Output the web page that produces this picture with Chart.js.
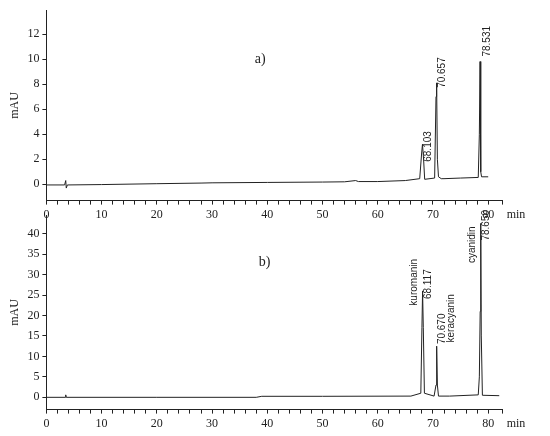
<!DOCTYPE html>
<html><head>
<script src="https://cdn.jsdelivr.net/npm/chart.js@4"></script>
<style>
body{margin:0;background:#fff;}
#a{position:absolute;left:0;top:0;}
#b{position:absolute;left:0;top:205px;}
</style>
</head><body>
<canvas id="a" width="550" height="225"></canvas>
<canvas id="b" width="550" height="231"></canvas>
<script>
// chromatogram a)
const timesA = [0, 3.3, 3.5, 3.6, 3.8, 10, 20, 28, 30, 40, 50, 54, 56, 56.5, 60, 65, 67.6, 67.95, 68.1, 68.3, 68.5, 70.3, 70.55, 70.66, 70.8, 71.0, 71.5, 72, 75, 78.2, 78.4, 78.53, 78.65, 78.8, 80];
const valuesA = [-0.05, -0.05, 0.3, -0.3, -0.05, -0.02, 0.05, 0.1, 0.12, 0.15, 0.18, 0.2, 0.3, 0.22, 0.22, 0.3, 0.45, 2.5, 3.2, 2.0, 0.4, 0.5, 7.0, 8.1, 2.0, 0.6, 0.45, 0.45, 0.5, 0.55, 4.0, 9.8, 1.0, 0.6, 0.6];
const peakLabelsA = ['68.103', '70.657', '78.531'];
const peakAnchorsA = [[69.1, 1.8], [71.6, 7.7], [79.9, 10.2]];

// chromatogram b)
const timesB = [0, 3.4, 3.5, 3.6, 20, 38, 39, 50, 66, 67.8, 68.0, 68.12, 68.25, 68.45, 70.2, 70.55, 70.67, 70.8, 71.0, 73, 78.2, 78.4, 78.55, 78.65, 78.75, 78.95, 82];
const valuesB = [0, 0, 0.6, 0, 0, 0, 0.25, 0.25, 0.3, 1, 17, 26, 17, 1, 0.3, 3, 12.5, 3, 0.3, 0.3, 0.6, 5, 21, 42.5, 15, 0.5, 0.4];
const peakLabelsB = ['kuromanin', '68.117', '70.670', 'keracyanin', 'cyanidin', '78.650'];
const peakAnchorsB = [[66.7, 22.4], [69.1, 24], [71.6, 13], [73.4, 13.4], [77.2, 32.8], [79.7, 38.3]];

const serif = '"Liberation Serif", serif';

function textPlugin(title, titlePos, labels, anchors) {
  return {
    id: 'txt',
    afterDraw(chart) {
      const c = chart.ctx, x = chart.scales.x, y = chart.scales.y;
      c.save();
      c.fillStyle = '#222';
      c.font = '10px "Liberation Sans", Arial, sans-serif';
      labels.forEach((t, i) => {
        c.save();
        c.translate(x.getPixelForValue(anchors[i][0]), y.getPixelForValue(anchors[i][1]));
        c.rotate(-Math.PI / 2);
        c.textBaseline = 'middle';
        c.fillText(t, 0, 0);
        c.restore();
      });
      c.font = '14px ' + serif;
      c.textAlign = 'center';
      c.textBaseline = 'middle';
      c.fillText(title, x.getPixelForValue(titlePos[0]), y.getPixelForValue(titlePos[1]));
      c.font = '12px ' + serif;
      c.fillText('min', chart.chartArea.right + 14, chart.chartArea.bottom + 14);
      c.restore();
    }
  };
}

function makeChart(id, times, values, ymin, ymax, ystep, xmax, title, titlePos, labels, anchors, pad) {
  new Chart(document.getElementById(id), {
    type: 'line',
    data: { datasets: [{ data: times.map((t, i) => ({ x: t, y: values[i] })), borderColor: '#222', borderWidth: 1, pointRadius: 0, tension: 0 }] },
    options: {
      responsive: false, animation: false,
      layout: { padding: pad },
      plugins: { legend: { display: false }, tooltip: { enabled: false } },
      scales: {
        x: {
          type: 'linear', min: 0, max: xmax,
          grid: { drawOnChartArea: false, tickLength: 4, color: '#222' },
          border: { color: '#222' },
          ticks: { stepSize: 2, autoSkip: false, maxRotation: 0, color: '#222', font: { family: serif, size: 12 },
            callback: v => (v % 10 === 0 ? v : '') }
        },
        y: {
          min: ymin, max: ymax,
          grid: { drawOnChartArea: false, tickLength: 4, color: '#222' },
          border: { color: '#222' },
          title: { display: true, text: 'mAU', color: '#222', font: { family: serif, size: 12 }, padding: 2 },
          ticks: { stepSize: ystep, includeBounds: false, color: '#222', font: { family: serif, size: 12 } }
        }
      }
    },
    plugins: [textPlugin(title, titlePos, labels, anchors)]
  });
}

makeChart('a', timesA, valuesA, -1.3, 13.9, 2, 82.5, 'a)', [38.7, 10], peakLabelsA, peakAnchorsA, { top: 7, right: 48, bottom: 0, left: 6 });
makeChart('b', timesB, valuesB, -3, 44.5, 5, 82.5, 'b)', [39.5, 33], peakLabelsB, peakAnchorsB, { top: 10, right: 48, bottom: 2, left: 6 });
</script>
</body></html>
